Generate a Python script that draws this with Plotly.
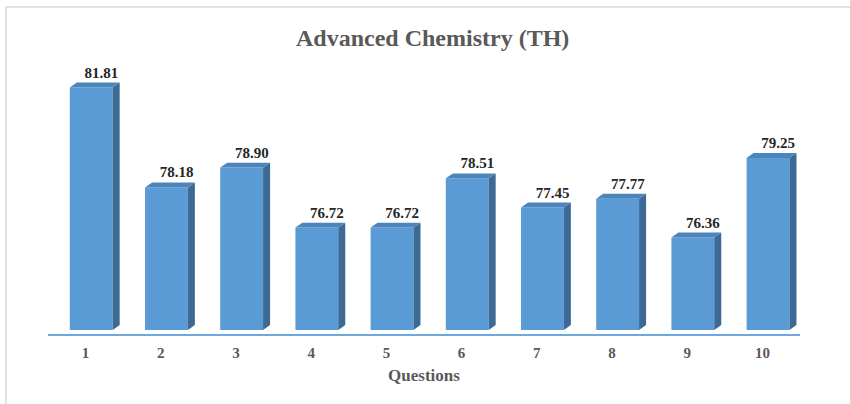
import plotly.graph_objects as go

# data
questions = [1, 2, 3, 4, 5, 6, 7, 8, 9, 10]
scores = [81.81, 78.18, 78.90, 76.72, 76.72, 78.51, 77.45, 77.77, 76.36, 79.25]
tick_text = [str(q) for q in questions]

BASE = 73.0
Y_LO, Y_HI = 72.855, 82.81

# bar geometry (data units)
OFF = -0.21      # front face left edge relative to category
W = 0.57         # front face width
DX = 0.093       # depth, horizontal
DY = 0.18        # depth, vertical

FRONT = "#5B9BD5"
SIDE = "#3C6A94"
TOP = "#4C84BC"

fig = go.Figure()

# front faces
fig.add_trace(go.Bar(
    x=questions, y=[s - BASE for s in scores], base=BASE,
    offset=OFF, width=W,
    marker=dict(color=FRONT, line=dict(width=0)),
    hovertemplate="Question %{x}<br>%{customdata:.2f}<extra></extra>",
    customdata=scores, showlegend=False))

# side and top faces
for q, s in zip(questions, scores):
    xl = q + OFF
    xr = xl + W
    fig.add_trace(go.Scatter(
        x=[xr, xr + DX, xr + DX, xr, xr],
        y=[BASE, BASE + DY, s + DY, s, BASE],
        fill="toself", fillcolor=SIDE, mode="lines",
        line=dict(width=0, color=SIDE), hoverinfo="skip", showlegend=False))
    fig.add_trace(go.Scatter(
        x=[xl, xl + DX, xr + DX, xr, xl],
        y=[s, s + DY, s + DY, s, s],
        fill="toself", fillcolor=TOP, mode="lines",
        line=dict(width=0, color=TOP), hoverinfo="skip", showlegend=False))

# value labels
fig.add_trace(go.Scatter(
    x=[q + 0.21 for q in questions], y=[s + 0.5 for s in scores],
    mode="text", text=[f"{s:.2f}" for s in scores],
    textposition="middle center",
    textfont=dict(family="Liberation Serif", size=15, color="#262626"),
    texttemplate="<b>%{text}</b>",
    hoverinfo="skip", showlegend=False))

fig.update_layout(
    width=850, height=404,
    margin=dict(l=48, r=50, t=60, b=70),
    paper_bgcolor="white", plot_bgcolor="white",
    font=dict(family="Liberation Serif", color="#595959"),
    title=dict(text="<b>Advanced Chemistry (TH)</b>", x=0.509, xanchor="center",
               y=0.908, yanchor="middle",
               font=dict(family="Liberation Serif", size=24, color="#595959")),
    xaxis=dict(range=[0.5, 10.5], tickvals=questions, ticktext=[f"<b>{t}</b>" for t in tick_text],
               showline=True, linecolor="#6FA8DC", linewidth=2, showgrid=False,
               zeroline=False, ticks="", ticklabelstandoff=4,
               tickfont=dict(size=15, color="#595959"),
               title=dict(text="<b>Questions</b>", standoff=9,
                          font=dict(size=17, color="#595959"))),
    yaxis=dict(range=[Y_LO, Y_HI], visible=False, showgrid=False, zeroline=False),
    shapes=[
        dict(type="line", xref="paper", yref="paper", x0=-0.0559, x1=1.2,
             y0=1.193, y1=1.193, line=dict(color="#D9D9D9", width=1.5)),
        dict(type="line", xref="paper", yref="paper", x0=-0.0559, x1=-0.0559,
             y0=1.193, y1=-0.3, line=dict(color="#D9D9D9", width=1.5)),
    ],
)

fig.write_html("out.html", config={"displayModeBar": False},
               post_script="document.body.style.margin='0';")
